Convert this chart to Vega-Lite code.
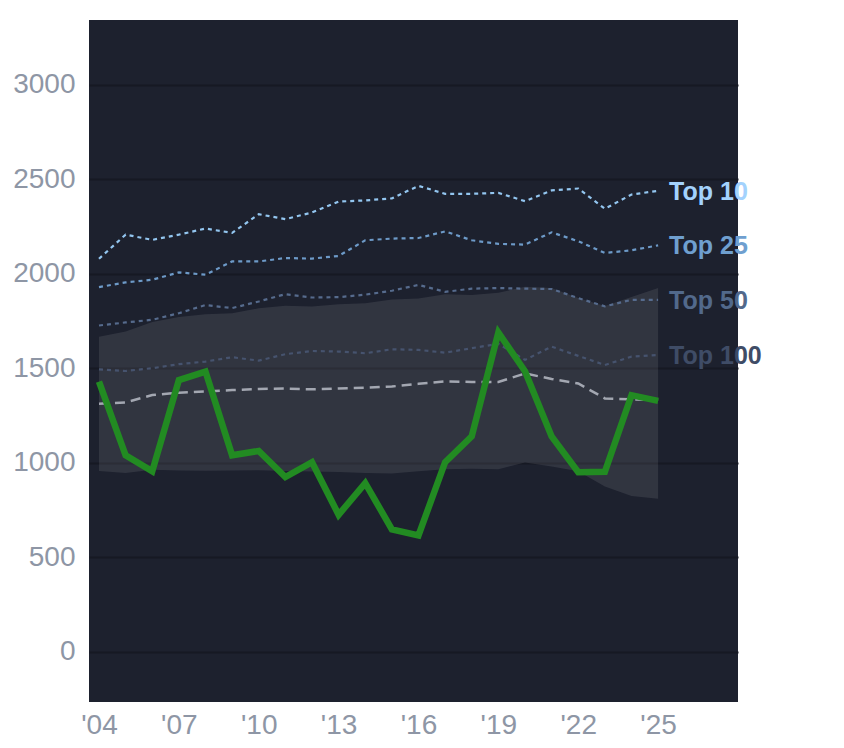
{
  "$schema": "https://vega.github.io/schema/vega-lite/v6.json",
  "autosize": {"type": "none"},
  "padding": {"left": 89, "top": 20, "right": 106, "bottom": 46},
  "width": 649,
  "height": 682,
  "background": "#ffffff",
  "config": {
    "view": {"fill": "#1d212e", "stroke": null},
    "font": "Liberation Sans",
    "axis": {
      "domain": false,
      "ticks": false,
      "labelColor": "#8e96a5",
      "labelFont": "Liberation Sans",
      "labelFontSize": 28,
      "title": null
    }
  },
  "datasets": {
    "band": [
      {"year": 2004, "lo": 957, "hi": 1668},
      {"year": 2005, "lo": 946, "hi": 1695},
      {"year": 2006, "lo": 963, "hi": 1745},
      {"year": 2007, "lo": 960, "hi": 1772},
      {"year": 2008, "lo": 958, "hi": 1787},
      {"year": 2009, "lo": 960, "hi": 1792},
      {"year": 2010, "lo": 961, "hi": 1818},
      {"year": 2011, "lo": 957, "hi": 1832},
      {"year": 2012, "lo": 954, "hi": 1828},
      {"year": 2013, "lo": 951, "hi": 1840},
      {"year": 2014, "lo": 946, "hi": 1845},
      {"year": 2015, "lo": 943, "hi": 1865},
      {"year": 2016, "lo": 955, "hi": 1870},
      {"year": 2017, "lo": 966, "hi": 1892},
      {"year": 2018, "lo": 968, "hi": 1888},
      {"year": 2019, "lo": 966, "hi": 1900},
      {"year": 2020, "lo": 1002, "hi": 1932},
      {"year": 2021, "lo": 980, "hi": 1925},
      {"year": 2022, "lo": 955, "hi": 1872},
      {"year": 2023, "lo": 875, "hi": 1830},
      {"year": 2024, "lo": 825, "hi": 1878},
      {"year": 2025, "lo": 810, "hi": 1925}
    ],
    "tops": [
      {"year": 2004, "series": "Top 10", "value": 2080},
      {"year": 2005, "series": "Top 10", "value": 2208},
      {"year": 2006, "series": "Top 10", "value": 2180},
      {"year": 2007, "series": "Top 10", "value": 2208},
      {"year": 2008, "series": "Top 10", "value": 2240},
      {"year": 2009, "series": "Top 10", "value": 2217},
      {"year": 2010, "series": "Top 10", "value": 2316},
      {"year": 2011, "series": "Top 10", "value": 2290},
      {"year": 2012, "series": "Top 10", "value": 2325},
      {"year": 2013, "series": "Top 10", "value": 2383},
      {"year": 2014, "series": "Top 10", "value": 2389},
      {"year": 2015, "series": "Top 10", "value": 2400},
      {"year": 2016, "series": "Top 10", "value": 2466},
      {"year": 2017, "series": "Top 10", "value": 2424},
      {"year": 2018, "series": "Top 10", "value": 2424},
      {"year": 2019, "series": "Top 10", "value": 2429},
      {"year": 2020, "series": "Top 10", "value": 2385},
      {"year": 2021, "series": "Top 10", "value": 2442},
      {"year": 2022, "series": "Top 10", "value": 2452},
      {"year": 2023, "series": "Top 10", "value": 2345},
      {"year": 2024, "series": "Top 10", "value": 2420},
      {"year": 2025, "series": "Top 10", "value": 2440},
      {"year": 2004, "series": "Top 25", "value": 1930},
      {"year": 2005, "series": "Top 25", "value": 1955},
      {"year": 2006, "series": "Top 25", "value": 1969},
      {"year": 2007, "series": "Top 25", "value": 2008},
      {"year": 2008, "series": "Top 25", "value": 1996},
      {"year": 2009, "series": "Top 25", "value": 2066},
      {"year": 2010, "series": "Top 25", "value": 2066},
      {"year": 2011, "series": "Top 25", "value": 2084},
      {"year": 2012, "series": "Top 25", "value": 2081},
      {"year": 2013, "series": "Top 25", "value": 2095},
      {"year": 2014, "series": "Top 25", "value": 2178},
      {"year": 2015, "series": "Top 25", "value": 2187},
      {"year": 2016, "series": "Top 25", "value": 2190},
      {"year": 2017, "series": "Top 25", "value": 2225},
      {"year": 2018, "series": "Top 25", "value": 2178},
      {"year": 2019, "series": "Top 25", "value": 2159},
      {"year": 2020, "series": "Top 25", "value": 2155},
      {"year": 2021, "series": "Top 25", "value": 2220},
      {"year": 2022, "series": "Top 25", "value": 2173},
      {"year": 2023, "series": "Top 25", "value": 2111},
      {"year": 2024, "series": "Top 25", "value": 2125},
      {"year": 2025, "series": "Top 25", "value": 2151},
      {"year": 2004, "series": "Top 50", "value": 1727},
      {"year": 2005, "series": "Top 50", "value": 1743},
      {"year": 2006, "series": "Top 50", "value": 1757},
      {"year": 2007, "series": "Top 50", "value": 1792},
      {"year": 2008, "series": "Top 50", "value": 1835},
      {"year": 2009, "series": "Top 50", "value": 1819},
      {"year": 2010, "series": "Top 50", "value": 1854},
      {"year": 2011, "series": "Top 50", "value": 1893},
      {"year": 2012, "series": "Top 50", "value": 1875},
      {"year": 2013, "series": "Top 50", "value": 1877},
      {"year": 2014, "series": "Top 50", "value": 1890},
      {"year": 2015, "series": "Top 50", "value": 1911},
      {"year": 2016, "series": "Top 50", "value": 1942},
      {"year": 2017, "series": "Top 50", "value": 1905},
      {"year": 2018, "series": "Top 50", "value": 1922},
      {"year": 2019, "series": "Top 50", "value": 1925},
      {"year": 2020, "series": "Top 50", "value": 1922},
      {"year": 2021, "series": "Top 50", "value": 1920},
      {"year": 2022, "series": "Top 50", "value": 1872},
      {"year": 2023, "series": "Top 50", "value": 1828},
      {"year": 2024, "series": "Top 50", "value": 1863},
      {"year": 2025, "series": "Top 50", "value": 1863},
      {"year": 2004, "series": "Top 100", "value": 1495},
      {"year": 2005, "series": "Top 100", "value": 1486},
      {"year": 2006, "series": "Top 100", "value": 1501},
      {"year": 2007, "series": "Top 100", "value": 1522},
      {"year": 2008, "series": "Top 100", "value": 1536},
      {"year": 2009, "series": "Top 100", "value": 1559},
      {"year": 2010, "series": "Top 100", "value": 1541},
      {"year": 2011, "series": "Top 100", "value": 1575},
      {"year": 2012, "series": "Top 100", "value": 1592},
      {"year": 2013, "series": "Top 100", "value": 1589},
      {"year": 2014, "series": "Top 100", "value": 1580},
      {"year": 2015, "series": "Top 100", "value": 1601},
      {"year": 2016, "series": "Top 100", "value": 1598},
      {"year": 2017, "series": "Top 100", "value": 1583},
      {"year": 2018, "series": "Top 100", "value": 1607},
      {"year": 2019, "series": "Top 100", "value": 1630},
      {"year": 2020, "series": "Top 100", "value": 1545},
      {"year": 2021, "series": "Top 100", "value": 1615},
      {"year": 2022, "series": "Top 100", "value": 1566},
      {"year": 2023, "series": "Top 100", "value": 1518},
      {"year": 2024, "series": "Top 100", "value": 1562},
      {"year": 2025, "series": "Top 100", "value": 1571}
    ],
    "median": [
      {"year": 2004, "value": 1313},
      {"year": 2005, "value": 1320},
      {"year": 2006, "value": 1359},
      {"year": 2007, "value": 1371},
      {"year": 2008, "value": 1378},
      {"year": 2009, "value": 1385},
      {"year": 2010, "value": 1391},
      {"year": 2011, "value": 1393},
      {"year": 2012, "value": 1389},
      {"year": 2013, "value": 1394},
      {"year": 2014, "value": 1397},
      {"year": 2015, "value": 1404},
      {"year": 2016, "value": 1418},
      {"year": 2017, "value": 1431},
      {"year": 2018, "value": 1428},
      {"year": 2019, "value": 1428},
      {"year": 2020, "value": 1473},
      {"year": 2021, "value": 1444},
      {"year": 2022, "value": 1420},
      {"year": 2023, "value": 1341},
      {"year": 2024, "value": 1336},
      {"year": 2025, "value": 1333}
    ],
    "actual": [
      {"year": 2004, "value": 1430},
      {"year": 2005, "value": 1040},
      {"year": 2006, "value": 955},
      {"year": 2007, "value": 1438},
      {"year": 2008, "value": 1483},
      {"year": 2009, "value": 1040},
      {"year": 2010, "value": 1063},
      {"year": 2011, "value": 925},
      {"year": 2012, "value": 1003},
      {"year": 2013, "value": 725},
      {"year": 2014, "value": 893},
      {"year": 2015, "value": 648},
      {"year": 2016, "value": 616},
      {"year": 2017, "value": 1003},
      {"year": 2018, "value": 1140},
      {"year": 2019, "value": 1690},
      {"year": 2020, "value": 1485},
      {"year": 2021, "value": 1140},
      {"year": 2022, "value": 950},
      {"year": 2023, "value": 953},
      {"year": 2024, "value": 1358},
      {"year": 2025, "value": 1328}
    ]
  },
  "encoding": {
    "x": {
      "field": "year",
      "type": "quantitative",
      "scale": {"domain": [2003.625, 2028], "nice": false, "zero": false},
      "axis": {
        "values": [2004, 2007, 2010, 2013, 2016, 2019, 2022, 2025],
        "labelExpr": "\"'\" + substring(toString(datum.value), 2)",
        "grid": false,
        "labelPadding": 9
      }
    }
  },
  "layer": [
    {
      "data": {"name": "band"},
      "mark": {"type": "area", "color": "#ffffff", "opacity": 0.09},
      "encoding": {
        "y": {
          "field": "hi",
          "type": "quantitative",
          "scale": {"domain": [-266, 3344], "nice": false, "zero": false},
          "axis": {
            "values": [0, 500, 1000, 1500, 2000, 2500, 3000],
            "format": "d",
            "grid": true,
            "gridColor": "#161923",
            "gridWidth": 2,
            "labelPadding": 14
          }
        },
        "y2": {"field": "lo"}
      }
    },
    {
      "data": {"name": "tops"},
      "mark": {"type": "line", "strokeWidth": 2.2, "strokeDash": [4, 4]},
      "encoding": {
        "y": {"field": "value", "type": "quantitative"},
        "color": {
          "field": "series",
          "type": "nominal",
          "scale": {
            "domain": ["Top 10", "Top 25", "Top 50", "Top 100"],
            "range": ["#93c6f0", "#6d9ac8", "#566b8d", "#46536e"]
          },
          "legend": null
        }
      }
    },
    {
      "data": {"name": "median"},
      "mark": {"type": "line", "strokeWidth": 2.5, "strokeDash": [10, 6], "color": "#a3a7b1"},
      "encoding": {
        "y": {"field": "value", "type": "quantitative"}
      }
    },
    {
      "data": {"name": "actual"},
      "mark": {"type": "line", "strokeWidth": 6.5, "color": "#228b22", "strokeJoin": "miter"},
      "encoding": {
        "y": {"field": "value", "type": "quantitative"}
      }
    },
    {
      "data": {"name": "tops"},
      "transform": [{"filter": "datum.year == 2025"}],
      "mark": {
        "type": "text",
        "align": "left",
        "baseline": "middle",
        "dx": 11,
        "dy": 1,
        "fontSize": 25,
        "fontWeight": "bold",
        "font": "Liberation Sans"
      },
      "encoding": {
        "y": {"field": "value", "type": "quantitative"},
        "text": {"field": "series"},
        "color": {
          "field": "series",
          "type": "nominal",
          "scale": {
            "domain": ["Top 10", "Top 25", "Top 50", "Top 100"],
            "range": ["#a3d2fd", "#6f9fcf", "#52698b", "#3f4c66"]
          },
          "legend": null
        }
      }
    }
  ],
  "resolve": {"scale": {"color": "independent"}}
}
